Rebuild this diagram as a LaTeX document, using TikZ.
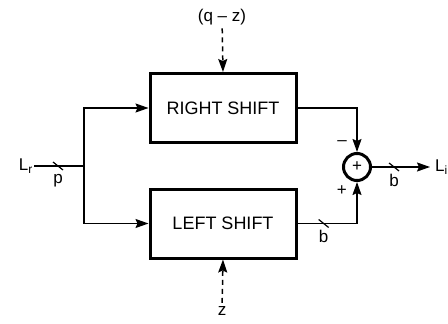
\documentclass[tikz,border=0pt]{standalone}
\usepackage{fontspec}
\setmainfont{Liberation Sans}
\usetikzlibrary{arrows.meta,positioning}

\begin{document}
\begin{tikzpicture}[x=1pt, y=-1pt, font=\fontsize{17}{20}\selectfont,
  block/.style={draw, line width=3pt, minimum width=146pt, minimum height=69pt, font=\fontsize{18}{21}\selectfont},
  adder/.style={draw, circle, line width=3pt, minimum size=27pt, inner sep=0pt},
  wire/.style={line width=1.5pt},
  arr/.style={wire, -{Stealth[length=13pt,width=9pt,inset=2pt]}},
  ctl/.style={arr, dash pattern=on 5pt off 4pt}]
\useasboundingbox (0,0) rectangle (448,324);
\node[block] (rsh) at (223,108) {RIGHT SHIFT};
\node[block] (lsh) at (223,223.5) {LEFT SHIFT};
\node[adder] (sum) at (357,167) {+};
\node[anchor=east, inner sep=1pt] (lr) at (34,166) {L\textsubscript{r}};
\node[anchor=west, inner sep=5pt] (li) at (430,167) {L\textsubscript{i}};
\node (qz) at (222,17) {(q -- z)};
\node (z) at (222,311) {z};
\coordinate (sp) at (84,166);
% input split
\draw[wire] (lr) -- coordinate[pos=.48] (t1) (sp);
\draw[arr] (sp) |- (rsh.west);
\draw[arr] (sp) |- (lsh.west);
% control inputs
\draw[ctl] (qz) -- (rsh.north);
\draw[ctl] (z) -- (lsh.south);
% into the adder
\draw[arr] (rsh.east) -| node[pos=.9, left=6pt]{--} (sum.north);
\draw[arr] (lsh.east) -| node[pos=.9, left=6pt]{+} coordinate[pos=.22] (t2) (sum.south);
\draw[arr] (sum) -- coordinate[pos=.38] (t3) (li);
% bus widths
\foreach \t in {t1,t2,t3}
  \draw[line width=1.2pt] ([shift={(-5,-4)}]\t) -- ([shift={(5,4)}]\t);
\node[below=5pt of t1] (wp) {p};
\node[below=3pt of t2] (wb1) {b};
\node[below=4pt of t3] (wb2) {b};
\end{tikzpicture}
\end{document}
